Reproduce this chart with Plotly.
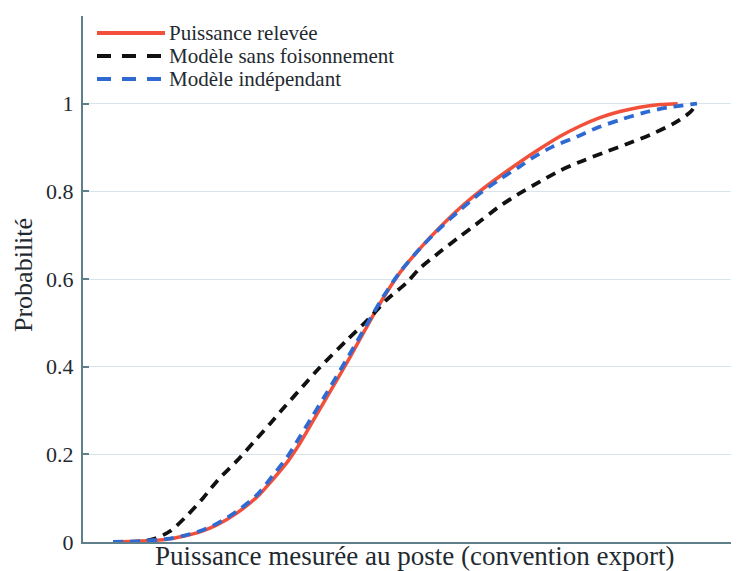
import plotly.graph_objects as go

# ---- data (x in normalised power units, y = cumulative probability) ----
releve_x = [0.000, 0.046, 0.092, 0.120, 0.149, 0.178, 0.212, 0.247, 0.274, 0.300,
            0.320, 0.342, 0.366, 0.406, 0.435, 0.462, 0.491, 0.526, 0.560, 0.594,
            0.628, 0.663, 0.697, 0.731, 0.765, 0.800, 0.834, 0.868, 0.902, 0.937, 0.967]
releve_y = [0.000, 0.002, 0.006, 0.013, 0.023, 0.039, 0.066, 0.103, 0.143, 0.185,
            0.225, 0.275, 0.330, 0.422, 0.492, 0.555, 0.614, 0.670, 0.718, 0.762,
            0.800, 0.835, 0.867, 0.897, 0.925, 0.949, 0.968, 0.982, 0.992, 0.998, 1.000]

sans_foison_x = [0.000, 0.046, 0.072, 0.098, 0.128, 0.154, 0.180, 0.212, 0.241, 0.269,
                 0.295, 0.325, 0.354, 0.401, 0.435, 0.469, 0.503, 0.526, 0.560, 0.594,
                 0.628, 0.658, 0.692, 0.731, 0.765, 0.805, 0.846, 0.880, 0.920, 0.959,
                 0.988, 1.000]
sans_foison_y = [0.000, 0.001, 0.008, 0.025, 0.062, 0.100, 0.142, 0.185, 0.228, 0.270,
                 0.310, 0.355, 0.398, 0.461, 0.505, 0.553, 0.592, 0.625, 0.662, 0.697,
                 0.731, 0.762, 0.792, 0.822, 0.847, 0.870, 0.891, 0.908, 0.929, 0.954,
                 0.980, 1.000]

independant_x = [0.000, 0.046, 0.092, 0.120, 0.149, 0.178, 0.212, 0.247, 0.274, 0.300,
                 0.320, 0.342, 0.366, 0.406, 0.435, 0.462, 0.491, 0.526, 0.560, 0.594,
                 0.628, 0.663, 0.697, 0.719, 0.753, 0.795, 0.829, 0.868, 0.908, 0.949, 1.000]
independant_y = [0.000, 0.002, 0.007, 0.014, 0.025, 0.042, 0.070, 0.108, 0.152, 0.197,
                 0.240, 0.288, 0.340, 0.430, 0.497, 0.558, 0.615, 0.670, 0.716, 0.757,
                 0.795, 0.828, 0.857, 0.877, 0.902, 0.925, 0.945, 0.963, 0.979, 0.991, 1.000]

series_names = ["Puissance relevée", "Modèle sans foisonnement", "Modèle indépendant"]
y_ticks = [0, 0.2, 0.4, 0.6, 0.8, 1]
y_tick_text = ["0", "0.2", "0.4", "0.6", "0.8", "1"]
x_title = "Puissance mesurée au poste (convention export)"
y_title = "Probabilité"

# ---- styling ----
RED = "#f2503a"
BLACK = "#111111"
BLUE = "#2f6ad3"
AXIS = "#5f808b"
GRID = "#d8e3ea"
TEXT = "#1f2a30"
FONT = "Liberation Serif"

# the page body adds an 8 px offset; the figure is sized to fill the rest
OFF = 8
FIG_W, FIG_H = 739 - OFF, 571 - OFF
M_L, M_T, M_B, M_R = 83 - OFF, 16 - OFF, 571 - 542, 0
W = FIG_W - M_L - M_R
H = FIG_H - M_T - M_B

fig = go.Figure()
fig.add_trace(go.Scatter(x=releve_x, y=releve_y, mode="lines", name=series_names[0],
                         line=dict(color=RED, width=3.5, shape="spline", smoothing=0.8),
                         showlegend=False))
fig.add_trace(go.Scatter(x=sans_foison_x, y=sans_foison_y, mode="lines", name=series_names[1],
                         line=dict(color=BLACK, width=3.8, dash="10px,7px", shape="spline", smoothing=0.8),
                         showlegend=False))
fig.add_trace(go.Scatter(x=independant_x, y=independant_y, mode="lines", name=series_names[2],
                         line=dict(color=BLUE, width=3.8, dash="10px,7px", shape="spline", smoothing=0.8),
                         showlegend=False))

# helpers: screen pixel -> paper coordinates
def px(xp):
    return (xp - 83) / W
def py(yp):
    return (542 - yp) / H

# manual legend (long line samples as in the original)
leg_rows = [(33, RED, "solid"), (56, BLACK, "14px,11px"), (79, BLUE, "14px,11px")]
for (yp, col, dash), name in zip(leg_rows, series_names):
    fig.add_shape(type="line", xref="paper", yref="paper",
                  x0=px(97), x1=px(165), y0=py(yp), y1=py(yp),
                  line=dict(color=col, width=3.8, dash=dash))
    fig.add_annotation(xref="paper", yref="paper", x=px(167), y=py(yp),
                       xanchor="left", yanchor="middle", text=name, showarrow=False,
                       font=dict(family=FONT, size=21, color=TEXT))

# axis titles placed as text annotations
fig.add_annotation(xref="paper", yref="paper", x=px(415), y=py(556),
                   xanchor="center", yanchor="middle", text=x_title, showarrow=False,
                   font=dict(family=FONT, size=27, color=TEXT))
fig.add_annotation(xref="paper", yref="paper", x=px(23), y=py(275),
                   xanchor="center", yanchor="middle", text=y_title, showarrow=False,
                   textangle=-90, font=dict(family=FONT, size=26, color=TEXT))

fig.update_layout(
    width=FIG_W, height=FIG_H,
    margin=dict(l=M_L, r=M_R, t=M_T, b=M_B, pad=0),
    paper_bgcolor="white", plot_bgcolor="white",
    font=dict(family=FONT, color=TEXT),
    showlegend=False,
    xaxis=dict(range=[-0.0514, 1.072], showticklabels=False, ticks="",
               showgrid=False, zeroline=False, showline=True, automargin=False,
               linecolor=AXIS, linewidth=2),
    yaxis=dict(range=[0, 1.2], tickvals=y_ticks, ticktext=y_tick_text,
               ticks="inside", ticklen=6, tickcolor=AXIS, tickwidth=1.5,
               tickfont=dict(family=FONT, size=22, color=TEXT),
               showgrid=True, gridcolor=GRID, gridwidth=1.2, zeroline=False,
               showline=True, linecolor=AXIS, linewidth=2, ticklabelstandoff=3,
               automargin=False),
)

fig.write_html("out.html")
